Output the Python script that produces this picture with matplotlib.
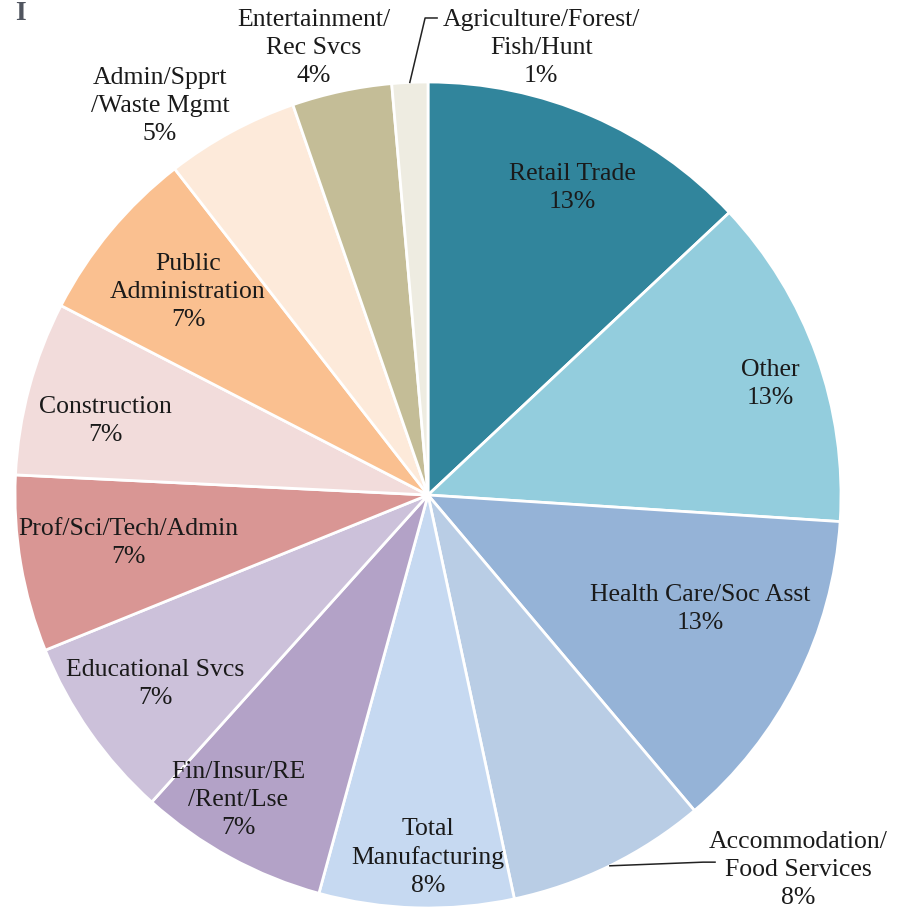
import numpy as np
import matplotlib.pyplot as plt

# Employment share by industry (percent)
industries = [
    'Retail Trade', 'Other', 'Health Care/Soc Asst', 'Accommodation/\nFood Services',
    'Total\nManufacturing', 'Fin/Insur/RE\n/Rent/Lse', 'Educational Svcs',
    'Prof/Sci/Tech/Admin', 'Construction', 'Public\nAdministration',
    'Admin/Spprt\n/Waste Mgmt', 'Entertainment/\nRec Svcs', 'Agriculture/Forest/\nFish/Hunt',
]
shares = [13.0, 13.0, 12.8, 7.8, 7.6, 7.4, 7.2, 6.9, 6.8, 6.9, 5.2, 3.9, 1.4]
colors = ['#31859C', '#93CDDD', '#95B3D7', '#B9CDE5', '#C6D9F1', '#B3A2C7', '#CCC1DA',
          '#D99694', '#F2DCDB', '#FAC090', '#FDEADA', '#C4BD97', '#EEECE1']

# label centres in pie-radius units
label_pos = [(0.349, 0.743), (0.828, 0.269), (0.659, -0.276), (0.896, -0.908),
             (0.0, -0.877), (-0.460, -0.738), (-0.661, -0.458), (-0.726, -0.116),
             (-0.782, 0.179), (-0.581, 0.492), (-0.649, 0.942), (-0.276, 1.082),
             (0.274, 1.082)]

plt.rcParams['font.family'] = ['Liberation Serif', 'DejaVu Serif']

fig = plt.figure(figsize=(8.98, 9.13), dpi=100)
ax = fig.add_axes([0, 0, 1, 1])

wedges, _ = ax.pie(shares, colors=colors, startangle=90, counterclock=False,
                   radius=1.0, wedgeprops=dict(edgecolor='white', linewidth=2))

for name, val, (x, y) in zip(industries, shares, label_pos):
    ax.text(x, y, f'{name}\n{val:.0f}%', ha='center', va='center',
            fontsize=18.5, color='#1a1a1a', linespacing=1.35)

# leader lines for the labels placed outside the pie
def edge_point(w):
    t = np.deg2rad((w.theta1 + w.theta2) / 2)
    return np.cos(t), np.sin(t)

ex, ey = edge_point(wedges[3])
ax.plot([ex, 0.666, 0.695], [ey, -0.889, -0.889], color='#222222', lw=1.1)
ex, ey = edge_point(wedges[12])
ax.plot([ex, -0.007, 0.022], [ey, 1.155, 1.155], color='#222222', lw=1.1)

ax.set_xlim((0 - 428) / 413, (898 - 428) / 413)
ax.set_ylim((495 - 913) / 413, (495 - 0) / 413)
ax.set_aspect('auto')
ax.axis('off')

fig.text(20 / 898, 1 - 20 / 913, 'I', fontsize=20, fontweight='bold',
         color='#50555f', ha='center', va='baseline')

fig.savefig('out.png', dpi=100)
